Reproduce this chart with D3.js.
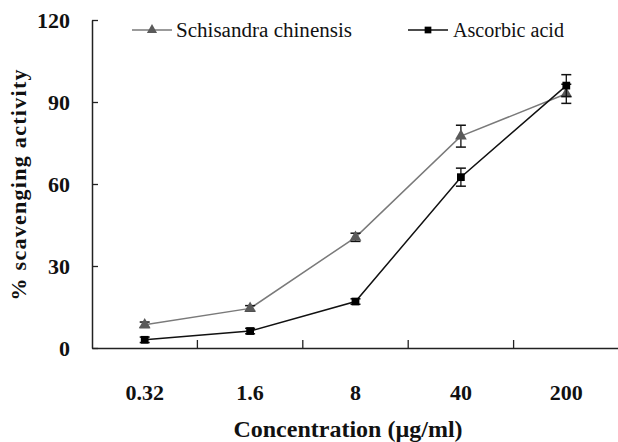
<!DOCTYPE html>
<html><head><meta charset="utf-8">
<script src="https://cdn.jsdelivr.net/npm/d3@7"></script>
<style>body{margin:0;background:#fff}svg{display:block}
svg text{font-family:"Liberation Serif","Times New Roman","DejaVu Serif",serif}</style>
</head><body><svg id="c" width="618" height="442"></svg>
<script>
const categories = ["0.32", "1.6", "8", "40", "200"];
const schisandra = [8.5, 14.5, 40.5, 77.5, 93];
const schisandraErr = [1, 1, 1.5, 4, 3.5];
const ascorbic = [3, 6.2, 17, 62.5, 96];
const ascorbicErr = [1, 1, 1, 3.3, 4];
const yTicks = [0, 30, 60, 90, 120];
const seriesNames = ["Schisandra chinensis", "Ascorbic acid"];

const svg = d3.select("#c");
const x = d3.scaleBand().domain(categories).range([92, 619]).padding(0);
const y = d3.scaleLinear().domain([0, 120]).range([348, 20]);

// axes
const xAxis = svg.append("g").attr("transform", "translate(0,348)")
  .call(d3.axisBottom(x).tickSizeInner(0).tickSizeOuter(0).tickFormat(""));
xAxis.select(".domain").attr("stroke", "#222").attr("stroke-width", 1.5);
svg.append("g").selectAll("line").data(categories).join("line")
  .attr("x1", d => x(d) + x.bandwidth()).attr("x2", d => x(d) + x.bandwidth())
  .attr("y1", 348).attr("y2", 340).attr("stroke", "#222").attr("stroke-width", 1.3);
svg.append("g").selectAll("text").data(categories).join("text")
  .attr("x", d => x(d) + x.bandwidth() / 2).attr("y", 400)
  .attr("text-anchor", "middle").attr("font-weight", "bold")
  .attr("font-size", 22).attr("fill", "#111").text(d => d);

const yAxis = svg.append("g").attr("transform", "translate(92,0)")
  .call(d3.axisRight(y).tickValues(yTicks).tickSizeInner(6).tickSizeOuter(0).tickFormat(""));
yAxis.select(".domain").attr("stroke", "#222").attr("stroke-width", 1.5);
yAxis.selectAll(".tick line").attr("stroke", "#222").attr("stroke-width", 1.3);
svg.append("g").selectAll("text").data(yTicks).join("text")
  .attr("x", 70).attr("y", d => y(d) + 8)
  .attr("text-anchor", "end").attr("font-weight", "bold")
  .attr("font-size", 22).attr("fill", "#111").text(d => d);

// titles
svg.append("text").attr("x", 348).attr("y", 437).attr("text-anchor", "middle")
  .attr("font-weight", "bold").attr("font-size", 24)
  .attr("fill", "#111").text("Concentration (µg/ml)");
svg.append("text").attr("transform", "translate(26,185) rotate(-90)")
  .attr("text-anchor", "middle").attr("font-weight", "bold")
  .attr("font-size", 22).attr("fill", "#111")
  .attr("textLength", 231).attr("lengthAdjust", "spacing")
  .text("% scavenging activity");

const cx = d => x(d) + x.bandwidth() / 2;
const line = d3.line().x(d => cx(d.c)).y(d => y(d.v));

function drawSeries(vals, errs, lineColor, markColor, symbolType, size) {
  const data = categories.map((c, i) => ({c, v: vals[i], e: errs[i]}));
  svg.append("path").datum(data).attr("d", line).attr("fill", "none")
    .attr("stroke", lineColor).attr("stroke-width", 1.5);
  const g = svg.append("g");
  data.forEach(d => {
    const X = cx(d.c);
    g.append("line").attr("x1", X).attr("x2", X).attr("y1", y(d.v + d.e)).attr("y2", y(d.v - d.e))
      .attr("stroke", "#111").attr("stroke-width", 1.3);
    [d.v + d.e, d.v - d.e].forEach(v => g.append("line")
      .attr("x1", X - 5).attr("x2", X + 5).attr("y1", y(v)).attr("y2", y(v))
      .attr("stroke", "#111").attr("stroke-width", 1.5));
  });
  svg.append("g").selectAll("path").data(data).join("path")
    .attr("transform", d => `translate(${cx(d.c)},${y(d.v)})`)
    .attr("d", d3.symbol().type(symbolType).size(size)).attr("fill", markColor);
}
drawSeries(schisandra, schisandraErr, "#7a7a7a", "#5a5a5a", d3.symbolTriangle, 60);
drawSeries(ascorbic, ascorbicErr, "#111", "#000", d3.symbolSquare, 60);

// legend
const legend = [
  {name: seriesNames[0], x1: 132, x2: 172, tx: 176, tw: 176, lc: "#7a7a7a", mc: "#5a5a5a", sym: d3.symbolTriangle},
  {name: seriesNames[1], x1: 408, x2: 448, tx: 453, tw: 111, lc: "#111", mc: "#000", sym: d3.symbolSquare}
];
legend.forEach(l => {
  svg.append("line").attr("x1", l.x1).attr("x2", l.x2).attr("y1", 30).attr("y2", 30)
    .attr("stroke", l.lc).attr("stroke-width", 1.5);
  svg.append("path").attr("transform", `translate(${(l.x1 + l.x2) / 2},30)`)
    .attr("d", d3.symbol().type(l.sym).size(45)).attr("fill", l.mc);
  svg.append("text").attr("x", l.tx).attr("y", 37)
    .attr("font-size", 20).attr("fill", "#111")
    .attr("textLength", l.tw).attr("lengthAdjust", "spacingAndGlyphs").text(l.name);
});
</script></body></html>
